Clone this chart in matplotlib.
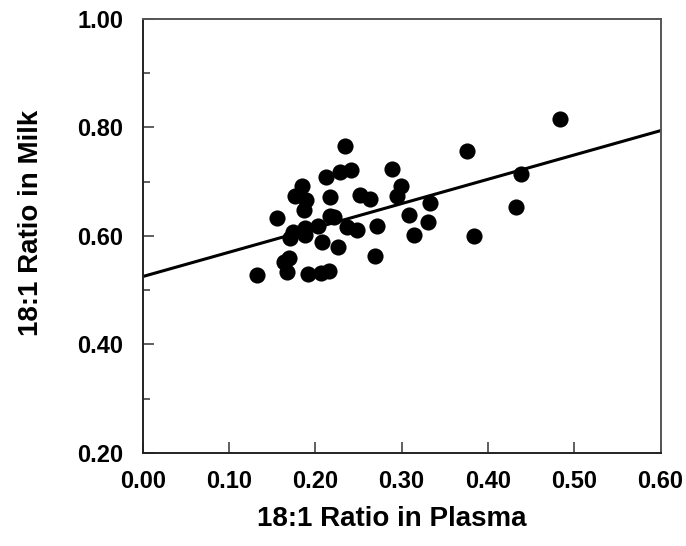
import matplotlib
matplotlib.use("Agg")
import matplotlib.pyplot as plt
import numpy as np

plt.rcParams["font.family"] = ["Liberation Sans", "DejaVu Sans"]
plt.rcParams["font.weight"] = "bold"

# plasma vs milk 18:1 ratios
plasma = [
    0.234, 0.228, 0.241, 0.289, 0.212, 0.184, 0.176, 0.189, 0.217, 0.252,
    0.263, 0.299, 0.295, 0.187, 0.156, 0.217, 0.222, 0.203, 0.237, 0.248,
    0.271, 0.174, 0.171, 0.188, 0.188, 0.208, 0.226, 0.269, 0.170, 0.164,
    0.167, 0.133, 0.192, 0.207, 0.216, 0.483, 0.376, 0.438, 0.333, 0.308,
    0.331, 0.314, 0.433, 0.384,
]
milk = [
    0.766, 0.717, 0.721, 0.723, 0.708, 0.691, 0.673, 0.666, 0.672, 0.676,
    0.668, 0.692, 0.673, 0.648, 0.633, 0.637, 0.635, 0.619, 0.617, 0.611,
    0.619, 0.608, 0.596, 0.614, 0.602, 0.589, 0.580, 0.562, 0.559, 0.551,
    0.534, 0.528, 0.530, 0.532, 0.535, 0.815, 0.756, 0.714, 0.661, 0.638,
    0.626, 0.602, 0.654, 0.600,
]

# regression line as drawn
line_intercept = 0.525
line_slope = 0.448

x_ticks = [0.0, 0.1, 0.2, 0.3, 0.4, 0.5, 0.6]
y_ticks = [0.2, 0.4, 0.6, 0.8, 1.0]
y_minor = [0.3, 0.5, 0.7, 0.9]


def main() -> None:
    fig = plt.figure(figsize=(6.86, 5.46), dpi=100)
    ax = fig.add_axes([0.208, 0.1703, 0.755, 0.7955])

    ax.scatter(plasma, milk, s=135, color="black", zorder=3, linewidths=0)

    xs = np.array([0.0, 0.6])
    ax.plot(xs, line_intercept + line_slope * xs, color="black", lw=2.2, zorder=2)

    ax.set_xlim(0.0, 0.6)
    ax.set_ylim(0.2, 1.0)
    ax.set_xticks(x_ticks)
    ax.set_yticks(y_ticks)
    ax.set_yticks(y_minor, minor=True)
    ax.set_xticklabels([f"{v:.2f}" for v in x_ticks])
    ax.set_yticklabels([f"{v:.2f}" for v in y_ticks])

    ax.tick_params(axis="both", which="major", direction="in", length=8,
                   width=1.2, color="#444444", labelsize=17)
    ax.tick_params(axis="y", which="minor", direction="in", length=5,
                   width=1.2, color="#444444")
    ax.tick_params(axis="x", pad=12)
    ax.tick_params(axis="y", pad=14)

    for name, spine in ax.spines.items():
        spine.set_linewidth(1.4)
        spine.set_color("#222222" if name in ("left", "bottom") else "#555555")

    ax.set_xlabel("18:1 Ratio in Plasma", fontsize=20, fontweight="bold")
    ax.set_ylabel("18:1 Ratio in Milk", fontsize=20, fontweight="bold")
    ax.xaxis.set_label_coords(0.481, -0.153)
    ax.yaxis.set_label_coords(-0.215, 0.53)
    ax.xaxis.label.set_va("center")
    ax.yaxis.label.set_va("center")

    fig.savefig("out.png", dpi=100)
    plt.close(fig)


if __name__ == "__main__":
    main()
